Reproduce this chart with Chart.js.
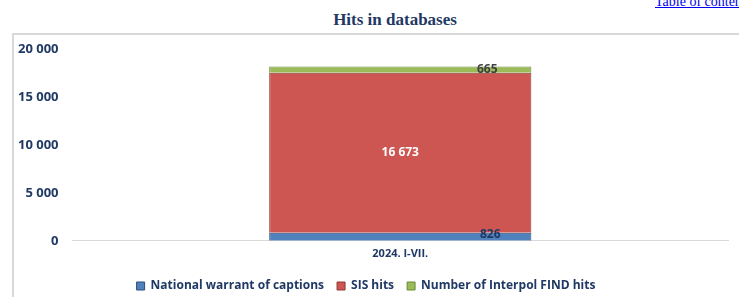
<!DOCTYPE html>
<html>
<head>
<meta charset="utf-8">
<script src="https://cdn.jsdelivr.net/npm/chart.js@4"></script>
<style>
  html, body { margin: 0; padding: 0; background: #fff; overflow: hidden; width: 739px; height: 297px; }
  #toc { position: absolute; left: 655px; top: -6px; font: 14px "Liberation Serif", serif; color: #0000ee; text-decoration: underline; white-space: nowrap; }
  #title { position: absolute; left: 0; width: 790px; top: 10px; text-align: center; font: bold 17px "Liberation Serif", serif; color: #1f3864; }
  #frame { position: absolute; left: 12px; top: 33px; width: 727px; height: 264px; border-top: 2px solid #d9d9d9; border-left: 2px solid #d9d9d9; overflow: hidden; }
  #frame canvas { display: block; margin-top: -8px; }
</style>
</head>
<body>
<a id="toc" href="#">Table of contents</a>
<div id="title">Hits in databases</div>
<div id="frame"><canvas id="chart" width="725" height="270"></canvas></div>
<script>
const categories = ['2024. I-VII.'];
const nationalWarrant = [826];
const sisHits = [16673];
const interpolFind = [665];
const yTicks = [0, 5000, 10000, 15000, 20000];

const navy = '#1f3864';
const fontFamily = '"Open Sans"';
const fmt = v => String(v).replace(/\B(?=(\d{3})+(?!\d))/g, ' ');

// value labels like the Excel original
const labelPlugin = {
  id: 'valueLabels',
  afterDatasetsDraw(chart) {
    const ctx = chart.ctx;
    const colors = [navy, '#ffffff', '#404040'];
    const offsets = [90, 0, 87];
    ctx.save();
    ctx.font = 'bold 12px ' + fontFamily;
    ctx.textAlign = 'center';
    ctx.textBaseline = 'middle';
    chart.data.datasets.forEach((ds, i) => {
      chart.getDatasetMeta(i).data.forEach((bar, j) => {
        ctx.fillStyle = colors[i];
        ctx.fillText(fmt(ds.data[j]), bar.x + offsets[i], (bar.y + bar.base) / 2 - (i === 0 ? 2 : 0));
      });
    });
    ctx.restore();
  }
};

new Chart(document.getElementById('chart'), {
  type: 'bar',
  data: {
    labels: categories,
    datasets: [
      { label: 'National warrant of captions', data: nationalWarrant, backgroundColor: '#4f81bd', borderColor: '#2c4d75', borderWidth: 1 },
      { label: 'SIS hits', data: sisHits, backgroundColor: '#cd5652', borderColor: '#8c3836', borderWidth: 1 },
      { label: 'Number of Interpol FIND hits', data: interpolFind, backgroundColor: '#9bbb59', borderColor: '#6b8a3a', borderWidth: 1 }
    ]
  },
  options: {
    responsive: false,
    animation: false,
    layout: { padding: { top: 0, right: 11, left: -10, bottom: -5 } },
    datasets: { bar: { categoryPercentage: 0.4, barPercentage: 1 } },
    plugins: {
      legend: {
        position: 'bottom',
        labels: { boxWidth: 8, boxHeight: 8, padding: 13, color: navy, font: { family: fontFamily, weight: 'bold', size: 12 } }
      },
      tooltip: { enabled: false }
    },
    scales: {
      x: {
        stacked: true,
        grid: { display: false, drawTicks: false },
        border: { display: true, color: '#d9d9d9', width: 1 },
        ticks: { color: navy, font: { family: fontFamily, weight: 'bold', size: 11 }, padding: 6.5 }
      },
      y: {
        stacked: true,
        min: 0, max: 20000,
        afterBuildTicks: axis => { axis.ticks = yTicks.map(v => ({ value: v })); },
        grid: { display: false, drawTicks: false },
        border: { display: false },
        ticks: { color: navy, font: { family: fontFamily, weight: 'bold', size: 13 }, padding: 14, callback: v => fmt(v) }
      }
    }
  },
  plugins: [labelPlugin]
});
</script>
</body>
</html>
